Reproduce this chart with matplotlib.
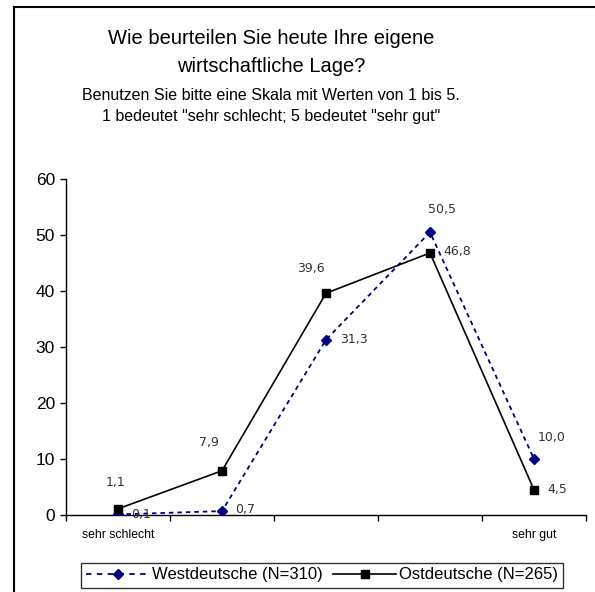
import matplotlib.pyplot as plt
from matplotlib.lines import Line2D

# data
categories = [1, 2, 3, 4, 5]
cat_labels = ["sehr schlecht", "", "", "", "sehr gut"]
west = [0.1, 0.7, 31.3, 50.5, 10.0]
ost = [1.1, 7.9, 39.6, 46.8, 4.5]
west_name = "Westdeutsche (N=310)"
ost_name = "Ostdeutsche (N=265)"

plt.rcParams['font.family'] = ['Liberation Sans', 'DejaVu Sans']

fig = plt.figure(figsize=(5.95, 5.92), dpi=100)
ax = fig.add_axes([66 / 595, 77 / 592, 520 / 595, 336 / 592])

navy = "#000080"
dash = (0, (2.5, 2.2))
ax.plot(categories, west, color=navy, ls=dash, lw=1.3,
        marker="D", ms=5, mfc=navy, mec=navy, zorder=3)
ax.plot(categories, ost, color="black", lw=1.2,
        marker="s", ms=6, mfc="black", mec="black", zorder=4)

# value labels (offsets in pixels)
west_off = [(23, 0), (23, 2), (28, 0), (12, 23), (18, 22)]
ost_off = [(-2, 26), (-13, 28), (-15, 25), (27, 1), (23, 0)]
lab_kw = dict(textcoords="offset pixels", ha="center", va="center",
              fontsize=9, color="#333333", family="DejaVu Sans")
for x, v, off in zip(categories, west, west_off):
    ax.annotate(f"{v:.1f}".replace(".", ","), (x, v), xytext=off, **lab_kw)
for x, v, off in zip(categories, ost, ost_off):
    ax.annotate(f"{v:.1f}".replace(".", ","), (x, v), xytext=off, **lab_kw)

ax.set_xlim(0.5, 5.5)
ax.set_ylim(0, 60)
ax.set_yticks(range(0, 61, 10))
ax.tick_params(axis="y", length=4, width=1, labelsize=12.5, pad=4)
ax.set_xticks(categories)
ax.set_xticklabels(cat_labels, fontsize=8.8)
ax.tick_params(axis="x", which="major", length=0, pad=10)
ax.set_xticks([c + 0.5 for c in [0] + categories], minor=True)
ax.tick_params(axis="x", which="minor", length=4, width=1)
for s in ["top", "right"]:
    ax.spines[s].set_visible(False)
for s in ["left", "bottom"]:
    ax.spines[s].set_linewidth(1)

fig.text(271 / 595, 1 - 39 / 592, "Wie beurteilen Sie heute Ihre eigene",
         ha="center", va="center", fontsize=14.5)
fig.text(271 / 595, 1 - 67 / 592, "wirtschaftliche Lage?",
         ha="center", va="center", fontsize=14.5)
fig.text(271 / 595, 1 - 95 / 592, "Benutzen Sie bitte eine Skala mit Werten von 1 bis 5.",
         ha="center", va="center", fontsize=11.5)
fig.text(271 / 595, 1 - 117 / 592, '1 bedeutet "sehr schlecht; 5 bedeutet "sehr gut"',
         ha="center", va="center", fontsize=11.5)

# outer frame (left and top edges)
fig.add_artist(Line2D([14 / 595, 14 / 595], [0, 1 - 7 / 592], color="black", lw=1.5,
                      transform=fig.transFigure))
fig.add_artist(Line2D([14 / 595, 1], [1 - 7 / 592, 1 - 7 / 592], color="black", lw=1.5,
                      transform=fig.transFigure))

h1 = Line2D([], [], color=navy, ls=(0, (3, 3)), lw=1.3, marker="D", ms=5)
h2 = Line2D([], [], color="black", lw=1.2, marker="s", ms=6)
leg = fig.legend([h1, h2], [west_name, ost_name], ncol=2, loc="center",
                 bbox_to_anchor=(322 / 595, 1 - 575 / 592), fontsize=12,
                 frameon=True, fancybox=False, edgecolor="black",
                 handlelength=3.8, columnspacing=0.6, handletextpad=0.15,
                 borderpad=0.3, borderaxespad=0)
leg.get_frame().set_linewidth(1)

fig.savefig("out.png", dpi=100)
